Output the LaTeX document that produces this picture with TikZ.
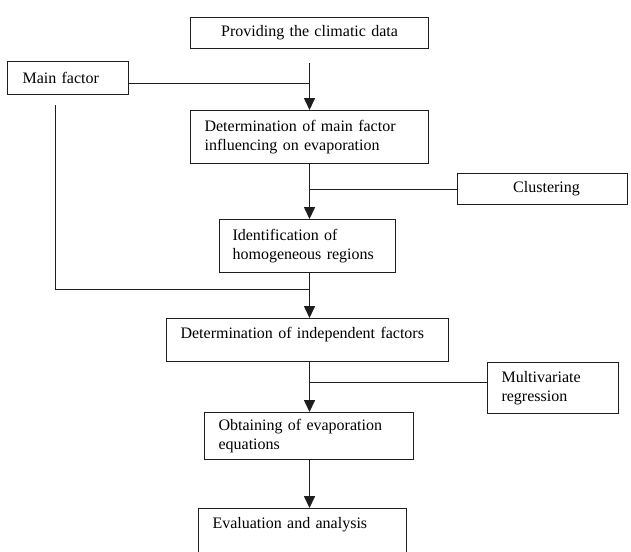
\documentclass[tikz,border=0pt]{standalone}
\usepackage{fontspec}
\setmainfont{Liberation Serif}
\usetikzlibrary{arrows.meta}
\definecolor{lc}{HTML}{1E1E1E}
\begin{document}
\begin{tikzpicture}[x=1pt,y=-1pt,
  box/.style={draw=lc, line width=1.1pt, anchor=north west, inner xsep=14pt, inner ysep=0pt,
    align=left, font=\fontsize{16}{18.5}\selectfont, text=black},
  cbox/.style={box, align=center},
  flow/.style={draw=lc, line width=1.6pt, -{Triangle[length=12pt,width=11pt]}},
  branch/.style={draw=lc, line width=1pt}]
\useasboundingbox (0,0) rectangle (631,551);
\clip (0,0) rectangle (631,551);
% boxes
\node[cbox, minimum width=238pt, minimum height=31pt, text width=210pt] (b1) at (190,17) {Providing the climatic data};
\node[box, minimum width=121pt, minimum height=33pt, inner xsep=15pt, text width=91pt] (mf) at (7,61) {Main factor};
\node[box, minimum width=238pt, minimum height=53pt, text width=210pt] (b3) at (190,110) {Determination of main factor\\influencing on evaporation};
\node[cbox, minimum width=170pt, minimum height=31pt, text width=142pt] (cl) at (457,173) {\hspace*{8pt}Clustering};
\node[box, minimum width=176pt, minimum height=53pt, text width=150pt, inner xsep=13pt] (b5) at (219,219) {Identification of\\homogeneous regions};
\node[box, minimum width=282pt, minimum height=43pt, text width=254pt, text depth=14pt] (b6) at (166,318) {Determination of independent factors};
\node[box, minimum width=131pt, minimum height=51pt, text width=103pt] (b7) at (487,362) {Multivariate\\regression};
\node[box, minimum width=209pt, minimum height=47pt, text width=181pt] (b8) at (204,412) {Obtaining of evaporation\\equations};
\node[box, minimum width=208pt, text width=180pt, inner ysep=5pt, text height=15pt, text depth=28pt] (b9) at (198,508) {Evaluation and analysis};
% helper coordinates
\coordinate (sp) at (309.5,0);
\coordinate (t1) at (309.5,63);
\coordinate (m1) at (128,83);
\coordinate (l1) at (55,105);
\coordinate (l2) at (55,289);
\coordinate (r7) at (487,382);
% connectors
\draw[flow] (t1) -- (b3.north -| sp);
\draw[branch] (m1) -- (m1 -| sp);
\draw[flow] (b3.south -| sp) -- (b5.north -| sp);
\draw[branch] (cl.west) -- (cl.west -| sp);
\draw[flow] (b5.south -| sp) -- (b6.north -| sp);
\draw[branch] (l1) -- (l2) -- (l2 -| sp);
\draw[flow] (b6.south -| sp) -- (b8.north -| sp);
\draw[branch] (r7) -- (r7 -| sp);
\draw[flow] (b8.south -| sp) -- (b9.north -| sp);
\end{tikzpicture}
\end{document}
